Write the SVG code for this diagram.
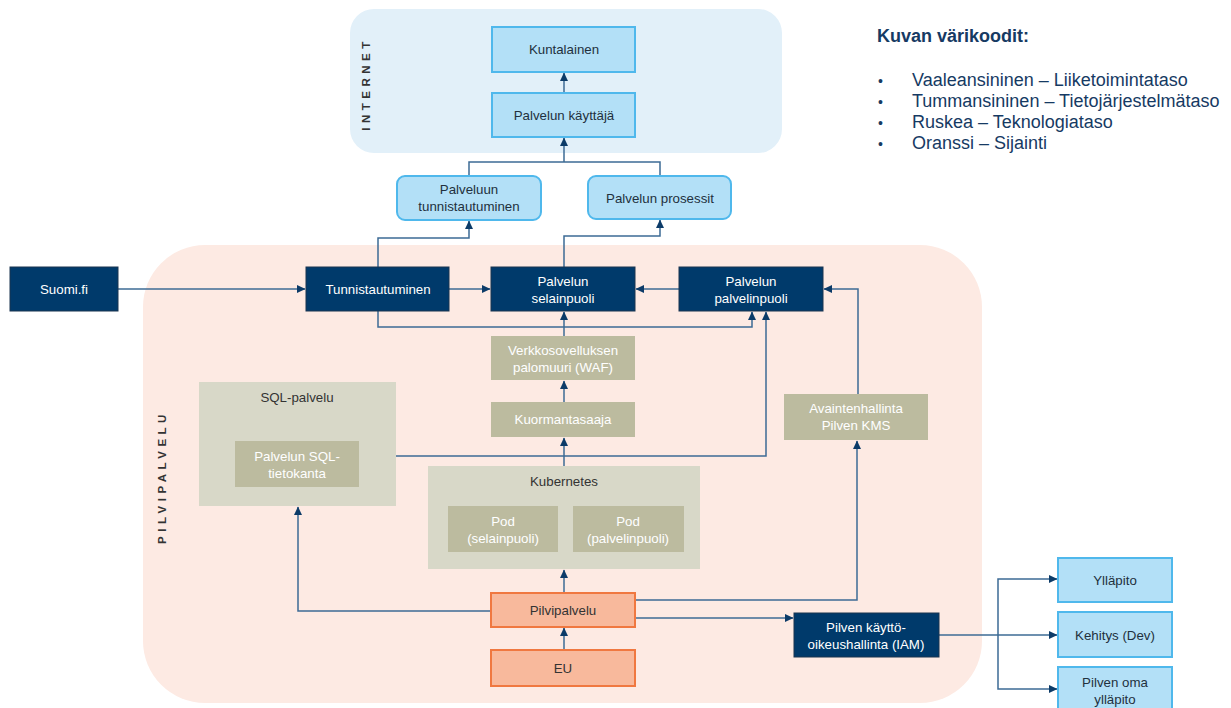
<svg xmlns="http://www.w3.org/2000/svg" width="1231" height="708" viewBox="0 0 1231 708">
<style>
text{font-family:"Liberation Sans",Arial,sans-serif;font-size:13.3px;text-anchor:middle;dominant-baseline:central}
.lb{fill:#b3e0f7;stroke:#4fb8ec;stroke-width:2}
.nv{fill:#003a6b;stroke:#1a3550;stroke-width:1}
.tn{fill:#bcbb9f}
.ct{fill:#d8d8c8}
.or{fill:#f8b99c;stroke:#f07840;stroke-width:2}
.td{fill:#22303d}
.tw{fill:#ffffff}
.tg{fill:#333333}
.cn path{fill:none;stroke:#3d6b95;stroke-width:1.5}
.lg{font-size:18px;text-anchor:start;dominant-baseline:alphabetic;fill:#163a63}
.zone{font-size:11.5px;font-weight:bold;fill:#333;letter-spacing:4.5px}
</style>
<defs>
<marker id="ah" markerUnits="userSpaceOnUse" markerWidth="9" markerHeight="9" refX="8" refY="4.5" orient="auto">
<path d="M0,0.5 L8.5,4.5 L0,8.5 z" fill="#0c3b68"/>
</marker>
</defs>
<rect width="1231" height="708" fill="#ffffff"/>
<g id="zone-internet">
<rect x="350" y="9" width="432" height="144" rx="24" fill="#e2f0f9"/>
<text class="zone" transform="translate(366,84) rotate(-90)">INTERNET</text>
</g>
<g id="zone-pilvi">
<rect x="143" y="245" width="839" height="458" rx="62" fill="#fdeae3"/>
<text class="zone" transform="translate(162,477) rotate(-90)">PILVIPALVELU</text>
</g>
<g id="legend">
<text class="lg" x="877" y="42" style="font-weight:bold">Kuvan värikoodit:</text>
<text class="lg" x="878" y="86" style="font-size:14px">•</text><text class="lg" x="912" y="86">Vaaleansininen – Liiketoimintataso</text>
<text class="lg" x="878" y="107" style="font-size:14px">•</text><text class="lg" x="912" y="107">Tummansininen – Tietojärjestelmätaso</text>
<text class="lg" x="878" y="128" style="font-size:14px">•</text><text class="lg" x="912" y="128">Ruskea – Teknologiataso</text>
<text class="lg" x="878" y="149" style="font-size:14px">•</text><text class="lg" x="912" y="149">Oranssi – Sijainti</text>
</g>
<g id="sql-palvelu"><rect class="ct" x="199" y="382" width="197" height="124"/><text class="tg" x="297" y="397">SQL-palvelu</text></g>
<g id="sql-tietokanta"><rect class="tn" x="235" y="441" width="124" height="46"/><text class="tw" x="297" y="456">Palvelun SQL-</text><text class="tw" x="297" y="473">tietokanta</text></g>
<g id="kubernetes"><rect class="ct" x="428" y="466" width="272" height="103"/><text class="tg" x="564" y="481">Kubernetes</text></g>
<g id="pod-selain"><rect class="tn" x="448" y="506" width="110" height="46"/><text class="tw" x="503" y="521">Pod</text><text class="tw" x="503" y="538">(selainpuoli)</text></g>
<g id="pod-palvelin"><rect class="tn" x="573" y="506" width="111" height="46"/><text class="tw" x="628" y="521">Pod</text><text class="tw" x="628" y="538">(palvelinpuoli)</text></g>
<g class="cn" id="connectors">
<path d="M564,93 V73" marker-end="url(#ah)"/>
<path d="M469,176 V162 H660 V176"/>
<path d="M564,162 V138" marker-end="url(#ah)"/>
<path d="M378,267 V238 H469 V221" marker-end="url(#ah)"/>
<path d="M564,267 V236 H660 V220" marker-end="url(#ah)"/>
<path d="M118,289 H305" marker-end="url(#ah)"/>
<path d="M449,289 H490" marker-end="url(#ah)"/>
<path d="M679,289 H636" marker-end="url(#ah)"/>
<path d="M378,311 V327 H752 V312" marker-end="url(#ah)"/>
<path d="M564,336 V312" marker-end="url(#ah)"/>
<path d="M564,402 V381" marker-end="url(#ah)"/>
<path d="M564,466 V438" marker-end="url(#ah)"/>
<path d="M396,456 H766 V312" marker-end="url(#ah)"/>
<path d="M858,394 V289 H824" marker-end="url(#ah)"/>
<path d="M564,593 V570" marker-end="url(#ah)"/>
<path d="M564,650 V628" marker-end="url(#ah)"/>
<path d="M491,611 H298 V507" marker-end="url(#ah)"/>
<path d="M635,600 H857 V441" marker-end="url(#ah)"/>
<path d="M635,618 H793" marker-end="url(#ah)"/>
<path d="M939,635 H1057" marker-end="url(#ah)"/>
<path d="M998,635 V579 H1057" marker-end="url(#ah)"/>
<path d="M998,635 V689 H1057" marker-end="url(#ah)"/>
</g>
<g id="kuntalainen"><rect class="lb" x="492" y="27" width="143" height="45"/><text class="td" x="564" y="49">Kuntalainen</text></g>
<g id="kayttaja"><rect class="lb" x="492" y="93" width="143" height="44"/><text class="td" x="564" y="115">Palvelun käyttäjä</text></g>
<g id="palveluun-tunnistautuminen"><rect class="lb" x="397" y="176" width="144" height="44" rx="8"/><text class="td" x="469" y="189">Palveluun</text><text class="td" x="469" y="206">tunnistautuminen</text></g>
<g id="prosessit"><rect class="lb" x="588" y="176" width="143" height="43" rx="8"/><text class="td" x="660" y="198">Palvelun prosessit</text></g>
<g id="suomifi"><rect class="nv" x="10" y="267" width="108" height="44"/><text class="tw" x="64" y="289">Suomi.fi</text></g>
<g id="tunnistautuminen"><rect class="nv" x="306" y="267" width="143" height="44"/><text class="tw" x="378" y="289">Tunnistautuminen</text></g>
<g id="selainpuoli"><rect class="nv" x="491" y="267" width="144" height="44"/><text class="tw" x="563" y="281">Palvelun</text><text class="tw" x="563" y="298">selainpuoli</text></g>
<g id="palvelinpuoli"><rect class="nv" x="679" y="267" width="144" height="44"/><text class="tw" x="751" y="281">Palvelun</text><text class="tw" x="751" y="298">palvelinpuoli</text></g>
<g id="waf"><rect class="tn" x="491" y="336" width="144" height="44"/><text class="tw" x="563" y="350">Verkkosovelluksen</text><text class="tw" x="563" y="367">palomuuri (WAF)</text></g>
<g id="kuormantasaaja"><rect class="tn" x="491" y="402" width="144" height="35"/><text class="tw" x="563" y="419">Kuormantasaaja</text></g>
<g id="avaintenhallinta"><rect class="tn" x="784" y="394" width="144" height="46"/><text class="tw" x="856" y="408">Avaintenhallinta</text><text class="tw" x="856" y="425">Pilven KMS</text></g>
<g id="pilvipalvelu"><rect class="or" x="491" y="593" width="144" height="34"/><text class="tg" x="563" y="610">Pilvipalvelu</text></g>
<g id="eu"><rect class="or" x="491" y="650" width="144" height="36"/><text class="tg" x="563" y="668">EU</text></g>
<g id="iam"><rect class="nv" x="794" y="613" width="145" height="44"/><text class="tw" x="866" y="627">Pilven käyttö-</text><text class="tw" x="866" y="644">oikeushallinta (IAM)</text></g>
<g id="yllapito"><rect class="lb" x="1058" y="558" width="114" height="44"/><text class="td" x="1115" y="580">Ylläpito</text></g>
<g id="kehitys"><rect class="lb" x="1058" y="612" width="114" height="45"/><text class="td" x="1115" y="635">Kehitys (Dev)</text></g>
<g id="pilven-oma"><rect class="lb" x="1058" y="667" width="114" height="46"/><text class="td" x="1115" y="682">Pilven oma</text><text class="td" x="1115" y="699">ylläpito</text></g>
</svg>
